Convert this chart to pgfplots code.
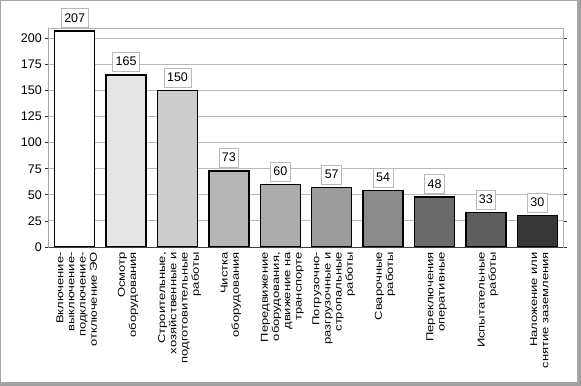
\documentclass[border=0pt]{standalone}
\usepackage{pgfplots}
\pgfplotsset{compat=1.18}
\usetikzlibrary{calc}
\usepackage{fontspec}
\setmainfont{Liberation Sans}
\newfontfamily\lblfont[FakeStretch=1.3]{Liberation Sans}
\definecolor{b1}{gray}{1.00}
\definecolor{b2}{gray}{0.90}
\definecolor{b3}{gray}{0.80}
\definecolor{b4}{gray}{0.71}
\definecolor{b5}{gray}{0.67}
\definecolor{b6}{gray}{0.61}
\definecolor{b7}{gray}{0.54}
\definecolor{b8}{gray}{0.42}
\definecolor{b9}{gray}{0.37}
\definecolor{b10}{gray}{0.22}
\begin{document}
\begin{tikzpicture}
\begin{axis}[
  name=ax,
  scale only axis, width=514bp, height=218bp,
  xmin=-0.5, xmax=9.5, ymin=0, ymax=209,
  ybar, bar width=40bp, bar shift=0pt,
  /pgf/number format/assume math mode=true,
  ytick={0,25,...,200},
  ymajorgrids, grid style={gray!55, line width=1bp},
  axis line style={gray!60, line width=1bp},
  tick align=outside,
  major tick length=4bp, minor tick length=4bp,
  ytick style={black!80, line width=0.8bp},
  yticklabel style={font=\fontsize{12.5bp}{14bp}\selectfont, inner sep=2bp, xshift=-1bp},
  xtick={0,...,9},
  xtick style={draw=none},
  minor xtick={-0.5,0.5,...,9.5},
  minor x tick style={black!70, line width=0.8bp},
  xticklabels={
    {Включение-\\выключение-\\подключение-\\отключение ЭО},
    {Осмотр\\оборудования},
    {Строительные,\\хозяйственные и\\подготовительные\\работы},
    {Чистка\\оборудования},
    {Передвижение\\оборудования,\\движение на\\транспорте},
    {Погрузочно-\\разгрузочные и\\стропальные\\работы},
    {Сварочные\\работы},
    {Переключения\\оперативные},
    {Испытательные\\работы},
    {Наложение или\\снятие заземления}},
  xticklabel style={rotate=90, anchor=east, align=right,
    font=\lblfont\fontsize{10bp}{11.2bp}\selectfont, inner sep=1bp, yshift=-2bp},
  nodes near coords,
  every node near coord/.append style={fill=white, draw=gray!55, line width=0.8bp,
    font=\fontsize{12.5bp}{14bp}\selectfont, text height=9bp, text depth=1bp,
    inner xsep=3bp, inner ysep=4.5bp, anchor=south, yshift=3bp, text=black},
  every axis plot/.append style={draw=black, line width=1.3bp},
]
\addplot[fill=b1] coordinates {(0,207)};
\addplot[fill=b2] coordinates {(1,165)};
\addplot[fill=b3] coordinates {(2,150)};
\addplot[fill=b4] coordinates {(3,73)};
\addplot[fill=b5] coordinates {(4,60)};
\addplot[fill=b6] coordinates {(5,57)};
\addplot[fill=b7] coordinates {(6,54)};
\addplot[fill=b8] coordinates {(7,48)};
\addplot[fill=b9] coordinates {(8,33)};
\addplot[fill=b10] coordinates {(9,30)};
\draw[black!75, line width=1bp] (axis cs:-0.5,209) -- (axis cs:-0.5,0) -- (axis cs:9.5,0);
\end{axis}
\coordinate (O) at (ax.south west);
\pgfresetboundingbox
\path[use as bounding box] ($(O)+(-49bp,-139bp)$) rectangle ($(O)+(532bp,247bp)$);
\fill[gray!75] ($(O)+(-49bp,-139bp)$) rectangle ($(O)+(532bp,-136bp)$);
\fill[gray!75] ($(O)+(529bp,-139bp)$) rectangle ($(O)+(532bp,247bp)$);
\draw[gray!70, line width=1.5bp] ($(O)+(-48.25bp,-136bp)$) rectangle ($(O)+(529bp,246.25bp)$);
\end{tikzpicture}
\end{document}
